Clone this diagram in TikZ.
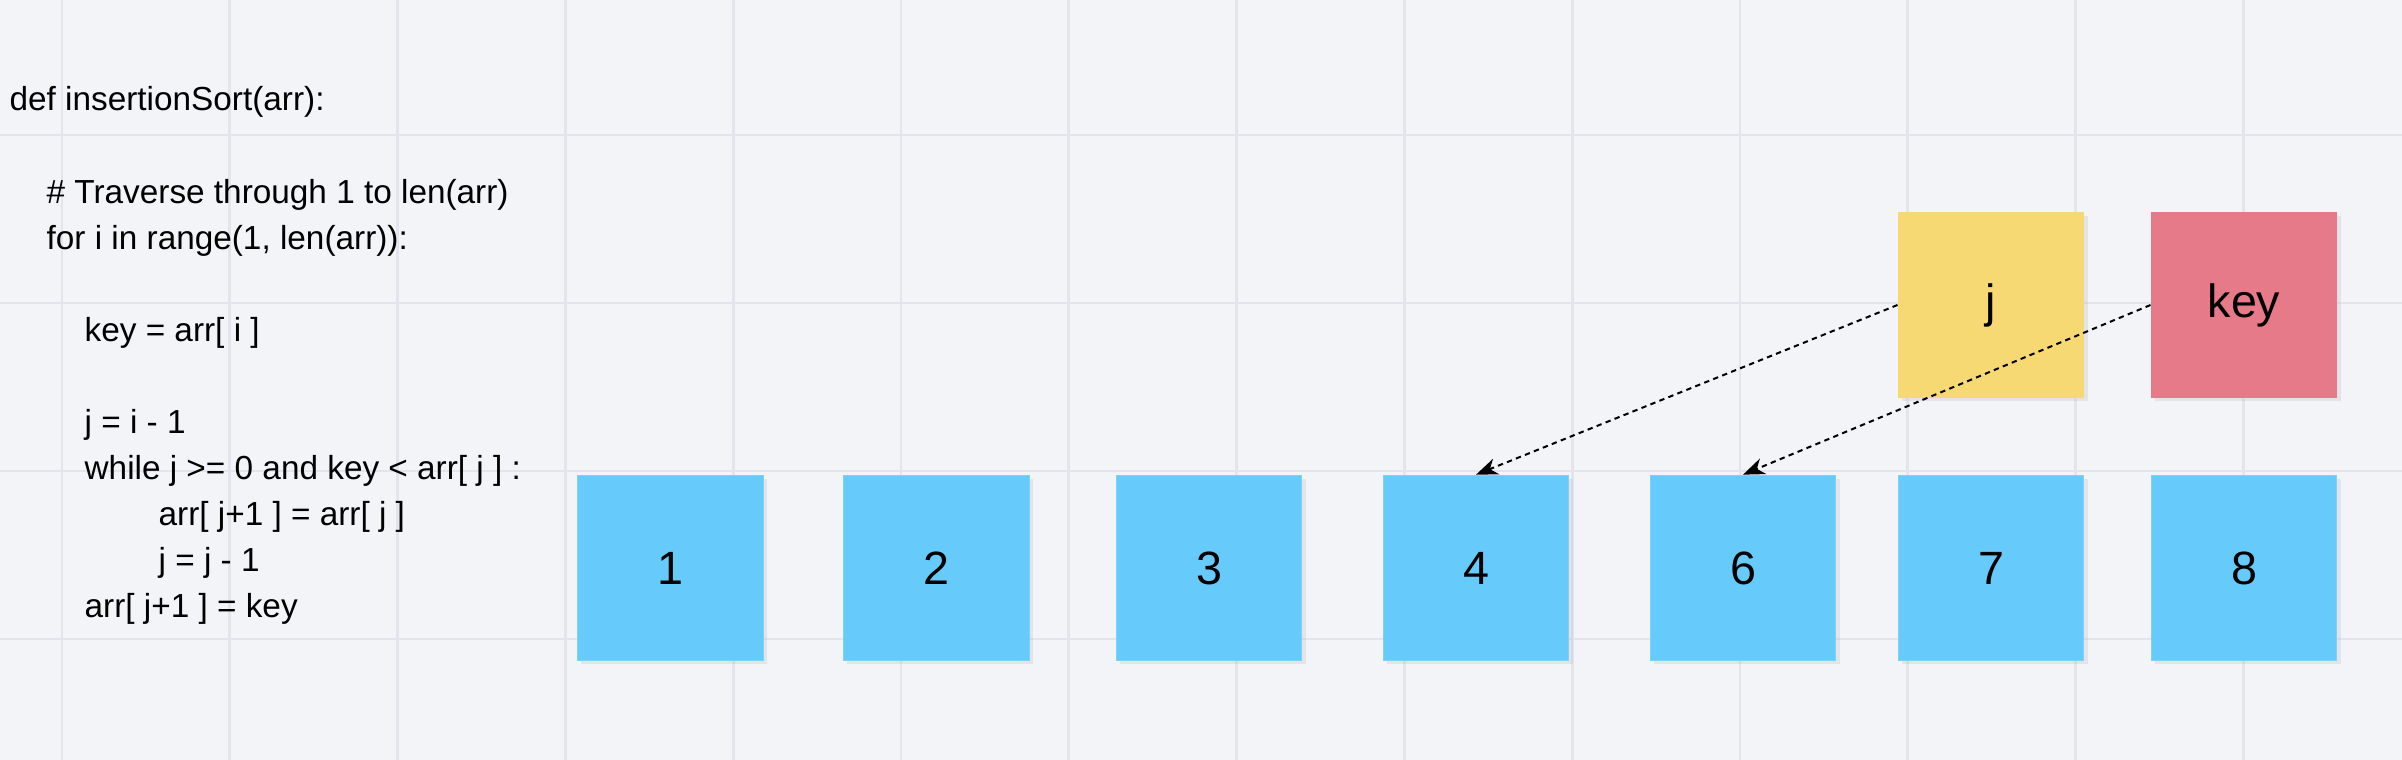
\documentclass[tikz,border=0pt]{standalone}
\usepackage{fontspec}
\setmainfont{Liberation Sans}
\usetikzlibrary{arrows.meta,shadows}
\definecolor{bg}{HTML}{F3F4F8}
\definecolor{gridc}{HTML}{E4E5EC}
\definecolor{cblue}{HTML}{66CAFA}
\definecolor{cyellow}{HTML}{F7D974}
\definecolor{cred}{HTML}{E67A89}
\tikzset{
  cell/.style={minimum width=55.7pt, minimum height=55.7pt, inner sep=0pt,
    font=\fontsize{14}{16}\selectfont,
    drop shadow={shadow xshift=1.1pt, shadow yshift=-1.1pt, opacity=0.13}},
  bluecell/.style={cell, fill=cblue, draw=cblue!85!white, line width=0.3pt},
  yellowcell/.style={cell, fill=cyellow},
  redcell/.style={cell, fill=cred},
  codeline/.style={anchor=base west, inner sep=0pt, font=\fontsize{10}{12}\selectfont},
  dasharrow/.style={draw=black, line width=0.6pt, dash pattern=on 1.6pt off 1.3pt,
    -{Stealth[length=6.5pt, width=5pt, inset=2pt]}},
  gridline/.style={draw=gridc, line width=0.8pt}
}
\begin{document}
\begin{tikzpicture}[x=0.3pt, y=-0.3pt]
\fill[bg] (0,0) rectangle (2402,760);
\useasboundingbox (0,0) rectangle (2402,760);
% grid
\foreach \k in {0,...,13} {
  \draw[gridline] ({62+167.8*\k},0) -- ({62+167.8*\k},760);
}
\foreach \yy in {135,303,471,639} {
  \draw[gridline] (0,\yy) -- (2402,\yy);
}
% code
\node[codeline] (c1) at (9,110.5) {def insertionSort(arr):};
\node[codeline] (c2) at (46,203.6) {\# Traverse through 1 to len(arr)};
\node[codeline] (c3) at (46,249.6) {for i in range(1, len(arr)):};
\node[codeline] (c4) at (84,341.7) {key = arr[ i ]};
\node[codeline] (c5) at (84,433.7) {j = i - 1};
\node[codeline] (c6) at (84,479.7) {while j >= 0 and key < arr[ j ] :};
\node[codeline] (c7) at (158,525.7) {arr[ j+1 ] = arr[ j ]};
\node[codeline] (c8) at (158,571.7) {j = j - 1};
\node[codeline] (c9) at (84,617.7) {arr[ j+1 ] = key};
% array cells
\node[bluecell] (b1) at (670.5,568) {1};
\node[bluecell] (b2) at (936.5,568) {2};
\node[bluecell] (b3) at (1209,568) {3};
\node[bluecell] (b4) at (1476,568) {4};
\node[bluecell] (b6) at (1743,568) {6};
\node[bluecell] (b7) at (1991,568) {7};
\node[bluecell] (b8) at (2244,568) {8};
% variables
\node[yellowcell] (jv) at (1991,305) {j};
\node[redcell] (kv) at (2244,305) {key};
% pointers
\draw[dasharrow] (jv.west) -- (b4.north);
\draw[dasharrow] (kv.west) -- (b6.north);
\end{tikzpicture}
\end{document}
